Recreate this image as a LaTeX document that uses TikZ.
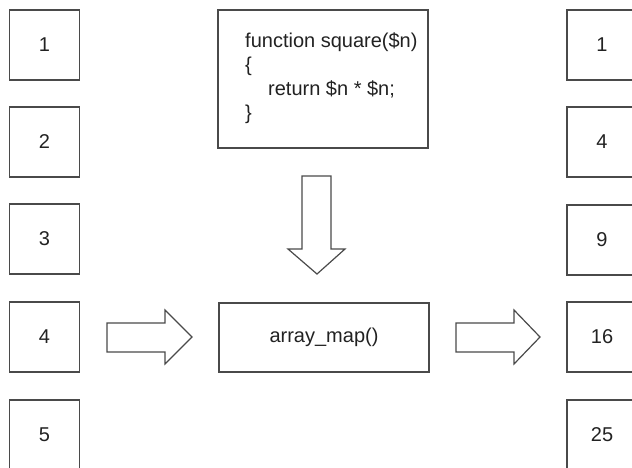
\documentclass[tikz,border=0pt]{standalone}
\usepackage{fontspec}
\setmainfont{Liberation Sans}
\definecolor{linec}{HTML}{4A4A4A}
\definecolor{textc}{HTML}{222222}
\begin{document}
\begin{tikzpicture}[x=1pt,y=-1pt,
  numbox/.style={draw=linec, line width=1.4pt, minimum width=70pt, minimum height=70pt, inner sep=0pt, text=textc, font=\fontsize{20}{24}\selectfont},
  bigbox/.style={draw=linec, line width=1.4pt, inner sep=0pt, text=textc, font=\fontsize{20}{24}\selectfont},
  fatarrow/.style={draw=linec, line width=1.2pt, fill=white, line join=miter}]
\useasboundingbox (0,0) rectangle (632,467);
\clip (0,0) rectangle (632,467);
\fill[white] (0,0) rectangle (632,467);
% input array
\node[numbox] (a1) at (44.5,45) {1};
\node[numbox] (a2) at (44.5,142) {2};
\node[numbox] (a3) at (44.5,239) {3};
\node[numbox] (a4) at (44.5,337) {4};
\node[numbox] (a5) at (44.5,435) {5};
% output array
\node[numbox] (b1) at (602,45) {1};
\node[numbox] (b2) at (602,142) {4};
\node[numbox] (b3) at (602,240) {9};
\node[numbox] (b4) at (602,337) {16};
\node[numbox] (b5) at (602,435) {25};
% callback
\node[bigbox, minimum width=210pt, minimum height=138pt] (code) at (323,79) {};
\node[anchor=north west, inner sep=0pt, align=left, text=textc, font=\fontsize{20}{24}\selectfont] (codetext) at (245,32.5)
  {function square(\$n)\\\{\\\hspace*{23pt}return \$n * \$n;\\\}};
% array_map
\node[bigbox, minimum width=210pt, minimum height=69pt] (map) at (324,337.5) {array\_map()};
% arrows
\draw[fatarrow] (302,176) -- (331,176) -- (331,249) -- (345,249) -- (317,274) -- (288,249) -- (302,249) -- cycle;
\draw[fatarrow] (107,323) -- (165,323) -- (165,310) -- (192,337) -- (165,364) -- (165,352) -- (107,352) -- cycle;
\draw[fatarrow] (456,323) -- (514,323) -- (514,310) -- (540,337) -- (514,364) -- (514,352) -- (456,352) -- cycle;
\end{tikzpicture}
\end{document}
